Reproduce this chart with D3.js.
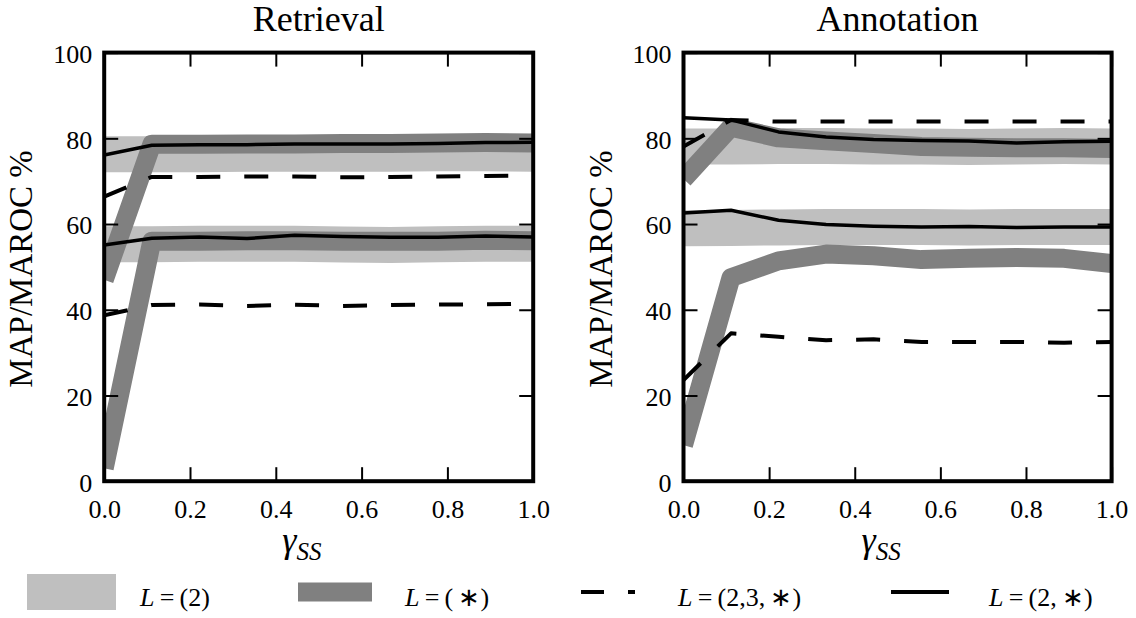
<!DOCTYPE html>
<html>
<head>
<meta charset="utf-8">
<script src="https://cdn.jsdelivr.net/npm/d3@7"></script>
</head>
<body style="margin:0">
<svg id="chart" width="1136" height="618" style="display:block"></svg>
<script>
// ---------------- data ----------------
const gammaSS = [0.0, 0.111, 0.222, 0.333, 0.444, 0.556, 0.667, 0.778, 0.889, 1.0];
const xTickValues = [0.0, 0.2, 0.4, 0.6, 0.8, 1.0];
const yTickValues = [0, 20, 40, 60, 80, 100];
const panelTitles = ["Retrieval", "Annotation"];
const legendLabels = ["(2)", "(\u2009\u2217)", "(2,3,\u2009\u2217)", "(2,\u2009\u2217)"];

// Retrieval panel (upper = MAP group, lower = MAROC group)
const retrievalL2Upper      = [76.3, 76.3, 76.3, 76.4, 76.4, 76.4, 76.4, 76.5, 76.5, 76.4];
const retrievalL2Lower      = [55.3, 55.3, 55.4, 55.4, 55.4, 55.2, 55.1, 55.3, 55.4, 55.4];
const retrievalLStarUpper   = [47.0, 78.6, 78.6, 78.7, 78.7, 78.8, 78.8, 78.9, 79.0, 78.9];
const retrievalLStarLower   = [3.0, 56.0, 56.0, 56.1, 56.1, 56.0, 56.0, 56.0, 56.2, 56.1];
const retrievalL23StarUpper = [66.4, 71.0, 71.0, 71.1, 71.1, 70.9, 71.0, 71.1, 71.2, 71.3];
const retrievalL23StarLower = [38.7, 41.1, 41.2, 40.9, 41.2, 40.9, 41.1, 41.2, 41.3, 41.4];
const retrievalL2StarUpper  = [76.1, 78.4, 78.5, 78.5, 78.7, 78.7, 78.7, 78.8, 79.0, 79.1];
const retrievalL2StarLower  = [55.1, 56.7, 57.0, 56.6, 57.4, 57.1, 56.9, 56.9, 57.2, 57.0];

// Annotation panel
const annotationL2Upper      = [78.1, 78.1, 78.2, 78.2, 78.1, 78.1, 78.0, 78.1, 78.2, 78.1];
const annotationL2Lower      = [59.0, 59.1, 59.2, 59.3, 59.3, 59.3, 59.2, 59.3, 59.3, 59.3];
const annotationLStarUpper   = [70.5, 82.6, 80.1, 79.4, 78.8, 78.1, 77.9, 77.8, 77.8, 77.6];
const annotationLStarLower   = [8.4, 47.5, 51.4, 53.0, 52.6, 51.7, 52.0, 52.2, 52.0, 50.8];
const annotationL23StarUpper = [78.1, 84.3, 83.9, 83.9, 83.9, 83.9, 83.9, 83.9, 83.9, 83.9];
const annotationL23StarLower = [23.6, 34.5, 33.7, 32.9, 33.1, 32.5, 32.5, 32.5, 32.3, 32.5];
const annotationL2StarUpper  = [84.8, 84.3, 81.5, 80.3, 79.7, 79.5, 79.4, 78.9, 79.2, 79.3];
const annotationL2StarLower  = [62.6, 63.2, 60.9, 59.9, 59.5, 59.3, 59.4, 59.2, 59.3, 59.3];

// ---------------- styles ----------------
const FONT = '"Liberation Serif", "Times New Roman", "Inter"';
const styles = [
  { color: "#bfbfbf", width: 36, dash: null },    // L=(2)
  { color: "#808080", width: 19, dash: null },    // L=(*)
  { color: "#000000", width: 4,  dash: "24,24" }, // L=(2,3,*)
  { color: "#000000", width: 3.5, dash: null }    // L=(2,*)
];

const panels = [
  { title: panelTitles[0], left: 104.2, right: 533.2,
    series: [[retrievalL2Upper, retrievalL2Lower], [retrievalLStarUpper, retrievalLStarLower],
             [retrievalL23StarUpper, retrievalL23StarLower], [retrievalL2StarUpper, retrievalL2StarLower]] },
  { title: panelTitles[1], left: 683.5, right: 1111.6,
    series: [[annotationL2Upper, annotationL2Lower], [annotationLStarUpper, annotationLStarLower],
             [annotationL23StarUpper, annotationL23StarLower], [annotationL2StarUpper, annotationL2StarLower]] }
];

const plotTop = 52.6, plotBottom = 481.2;
const svg = d3.select("#chart").attr("font-family", FONT);

panels.forEach((p, pi) => {
  const x = d3.scaleLinear().domain([0, 1]).range([p.left, p.right]);
  const y = d3.scaleLinear().domain([0, 100]).range([plotBottom, plotTop]);
  const g = svg.append("g");

  const clipId = "clip" + pi;
  svg.append("clipPath").attr("id", clipId)
    .append("rect").attr("x", p.left).attr("y", plotTop)
    .attr("width", p.right - p.left).attr("height", plotBottom - plotTop);

  const plot = g.append("g").attr("clip-path", `url(#${clipId})`);
  const line = d3.line().x((d, i) => x(gammaSS[i])).y(d => y(d));

  p.series.forEach((pair, si) => {
    const st = styles[si];
    pair.forEach(vals => {
      plot.append("path")
        .attr("d", line(vals))
        .attr("fill", "none")
        .attr("stroke", st.color)
        .attr("stroke-width", st.width)
        .attr("stroke-linejoin", "round")
        .attr("stroke-linecap", "butt")
        .attr("stroke-dasharray", st.dash);
    });
  });

  // axes with inward ticks
  const tickLen = 14;
  const fmtX = d3.format(".1f");
  const axB = g.append("g").attr("transform", `translate(0,${plotBottom})`)
    .call(d3.axisBottom(x).tickValues(xTickValues).tickFormat(fmtX).tickSizeInner(-tickLen).tickSizeOuter(0).tickPadding(18));
  const axT = g.append("g").attr("transform", `translate(0,${plotTop})`)
    .call(d3.axisTop(x).tickValues(xTickValues).tickFormat("").tickSizeInner(-tickLen).tickSizeOuter(0));
  const axL = g.append("g").attr("transform", `translate(${p.left},0)`)
    .call(d3.axisLeft(y).tickValues(yTickValues).tickFormat(d3.format("d")).tickSizeInner(-tickLen).tickSizeOuter(0).tickPadding(12));
  const axR = g.append("g").attr("transform", `translate(${p.right},0)`)
    .call(d3.axisRight(y).tickValues(yTickValues).tickFormat("").tickSizeInner(-tickLen).tickSizeOuter(0));
  [axB, axT, axL, axR].forEach(a => {
    a.attr("font-family", FONT).attr("font-size", 26);
    a.select(".domain").remove();
    a.selectAll(".tick line").attr("stroke", "#000").attr("stroke-width", 2);
    a.selectAll(".tick text").style("font-family", FONT).attr("font-size", 26).attr("fill", "#000");
  });
  axL.selectAll(".tick text").attr("dy", "0.38em");

  // frame
  g.append("rect")
    .attr("x", p.left).attr("y", plotTop)
    .attr("width", p.right - p.left).attr("height", plotBottom - plotTop)
    .attr("fill", "none").attr("stroke", "#000").attr("stroke-width", 4);

  // title
  g.append("text")
    .attr("x", (p.left + p.right) / 2).attr("y", 31)
    .attr("text-anchor", "middle").style("font-family", FONT).attr("font-size", 36)
    .text(p.title);

  // y label
  g.append("text")
    .attr("transform", `translate(${p.left - 72},${(plotTop + plotBottom) / 2 + 2}) rotate(-90)`)
    .attr("text-anchor", "middle").style("font-family", FONT).attr("font-size", 33)
    .text("MAP/MAROC %");

  // x label
  const xl = g.append("text")
    .attr("x", p.left + 178).attr("y", 552)
    .attr("text-anchor", "start").style("font-family", FONT);
  xl.append("tspan").attr("font-size", 36).attr("font-style", "italic").text("\u03b3");
  xl.append("tspan").attr("font-size", 25).attr("font-style", "italic").attr("dy", 8).text("SS");
});

// ---------------- legend ----------------
const legendY = 592;
const leg = svg.append("g");
leg.append("line").attr("x1", 27).attr("x2", 116).attr("y1", legendY).attr("y2", legendY)
  .attr("stroke", styles[0].color).attr("stroke-width", styles[0].width);
leg.append("line").attr("x1", 298).attr("x2", 372).attr("y1", legendY).attr("y2", legendY)
  .attr("stroke", styles[1].color).attr("stroke-width", styles[1].width);
leg.append("line").attr("x1", 581).attr("x2", 635).attr("y1", legendY).attr("y2", legendY)
  .attr("stroke", styles[2].color).attr("stroke-width", styles[2].width).attr("stroke-dasharray", "23,24");
leg.append("line").attr("x1", 891).attr("x2", 949).attr("y1", legendY).attr("y2", legendY)
  .attr("stroke", styles[3].color).attr("stroke-width", 4);

const legendTextX = [140, 405, 678, 989];
legendLabels.forEach((lab, i) => {
  const t = leg.append("text").attr("x", legendTextX[i]).attr("y", 606)
    .style("font-family", FONT).attr("font-size", 26);
  t.append("tspan").attr("font-style", "italic").text("L");
  t.append("tspan").text("\u2009=\u2009" + lab);
});
</script>
</body>
</html>
